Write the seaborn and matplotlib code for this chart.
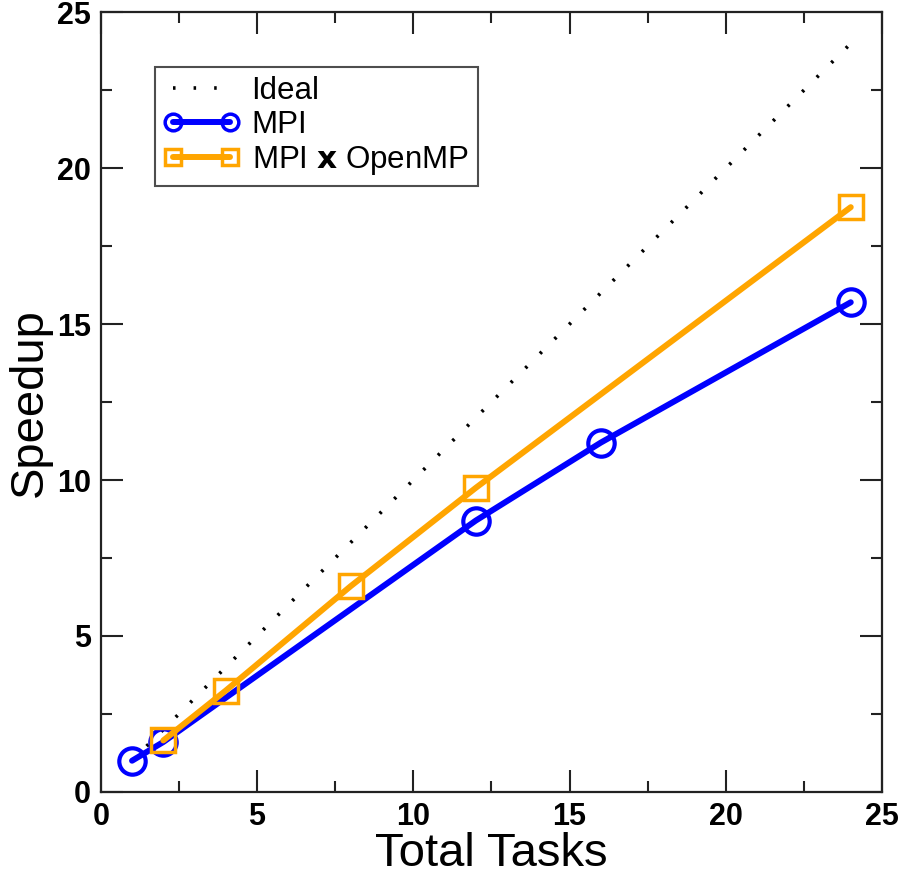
import matplotlib
matplotlib.use("Agg")
import matplotlib.pyplot as plt
from matplotlib.ticker import MultipleLocator
import seaborn as sns
import pandas as pd

ideal_tasks = [1, 24]
ideal_speedup = [1, 24]

mpi_tasks = [1, 2, 12, 16, 24]
mpi_speedup = [1.0, 1.6, 8.7, 11.2, 15.7]

hybrid_tasks = [2, 4, 8, 12, 24]
hybrid_speedup = [1.65, 3.25, 6.6, 9.75, 18.75]


def main():
    sns.set_style("ticks")
    plt.rcParams['font.family'] = ['Liberation Sans Narrow', 'Liberation Sans', 'DejaVu Sans']
    plt.rcParams['text.color'] = 'black'
    plt.rcParams['axes.labelcolor'] = 'black'

    fig = plt.figure(figsize=(9, 8.76), dpi=100)
    ax = fig.add_axes([0.112, 0.096, 0.868, 0.890])

    ideal = pd.DataFrame({'tasks': ideal_tasks, 'speedup': ideal_speedup})
    mpi = pd.DataFrame({'tasks': mpi_tasks, 'speedup': mpi_speedup})
    hybrid = pd.DataFrame({'tasks': hybrid_tasks, 'speedup': hybrid_speedup})

    sns.lineplot(data=ideal, x='tasks', y='speedup', ax=ax, color='black',
                 linestyle=(0, (0.7, 5)), linewidth=2.6, label='Ideal')
    sns.lineplot(data=mpi, x='tasks', y='speedup', ax=ax, color='#0000ff',
                 linewidth=4.3, marker='o', markersize=19, markerfacecolor='none',
                 markeredgecolor='#0000ff', markeredgewidth=3, label='MPI')
    sns.lineplot(data=hybrid, x='tasks', y='speedup', ax=ax, color='#ffa500',
                 linewidth=4.3, marker='s', markersize=17, markerfacecolor='none',
                 markeredgecolor='#ffa500', markeredgewidth=2.5,
                 label='MPI $\\mathbf{x}$ OpenMP')

    ax.set_xlim(0, 25)
    ax.set_ylim(0, 25)
    ax.xaxis.set_major_locator(MultipleLocator(5))
    ax.xaxis.set_minor_locator(MultipleLocator(2.5))
    ax.yaxis.set_major_locator(MultipleLocator(5))
    ax.yaxis.set_minor_locator(MultipleLocator(2.5))
    ax.tick_params(which='both', direction='in', top=True, right=True, width=1.5,
                   colors='#222222', labelcolor='black')
    ax.tick_params(which='major', length=16, labelsize=22, pad=7)
    ax.tick_params(which='minor', length=8)
    for lbl in ax.get_xticklabels() + ax.get_yticklabels():
        lbl.set_fontweight('bold')
    for s in ax.spines.values():
        s.set_visible(True)
        s.set_linewidth(1.6)
        s.set_color('#222222')

    ax.set_xlabel('Total Tasks', fontsize=34, labelpad=0)
    ax.set_ylabel('Speedup', fontsize=34, labelpad=4)

    leg = ax.legend(loc='upper left', bbox_to_anchor=(0.069, 0.93), fontsize=22.5,
                    frameon=True, fancybox=False, edgecolor='#222222',
                    numpoints=2, handlelength=2.4, borderpad=0.3, labelspacing=0.12,
                    handletextpad=0.4, borderaxespad=0)
    leg.get_frame().set_linewidth(1.5)
    for h in leg.legend_handles:
        h.set_markersize(12)
        h.set_markeredgewidth(2.5)

    fig.savefig('out.png', dpi=100)


if __name__ == '__main__':
    main()
